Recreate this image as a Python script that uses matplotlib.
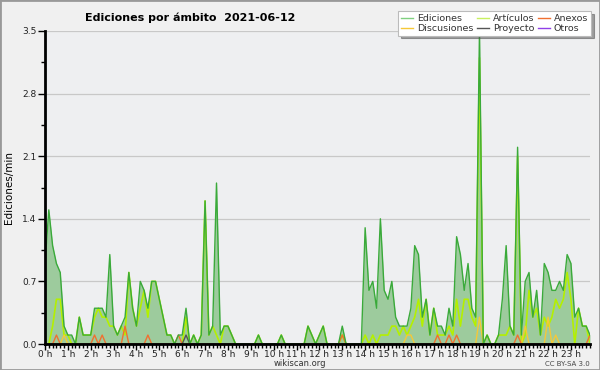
import numpy as np
import matplotlib
matplotlib.use("Agg")
import matplotlib.pyplot as plt
from matplotlib.patches import Rectangle
from matplotlib.ticker import MultipleLocator, FixedLocator

# 10-minute bins, edits per minute
ediciones = [
    0.9, 1.5, 1.1, 0.9, 0.8, 0.2, 0.1, 0.1, 0.0, 0.3, 0.1, 0.1,   # 0h-2h
    0.1, 0.4, 0.4, 0.4, 0.3, 1.0, 0.2, 0.1, 0.2, 0.3, 0.8, 0.4,   # 2h-4h
    0.2, 0.7, 0.6, 0.4, 0.7, 0.7, 0.5, 0.3, 0.1, 0.1, 0.0, 0.1,   # 4h-6h
    0.1, 0.4, 0.0, 0.1, 0.0, 0.1, 1.6, 0.1, 0.2, 1.8, 0.1, 0.2,   # 6h-8h
    0.2, 0.1, 0.0, 0.0, 0.0, 0.0, 0.0, 0.0, 0.1, 0.0, 0.0, 0.0,   # 8h-10h
    0.0, 0.0, 0.1, 0.0, 0.0, 0.0, 0.0, 0.0, 0.0, 0.2, 0.1, 0.0,   # 10h-12h
    0.1, 0.2, 0.0, 0.0, 0.0, 0.0, 0.2, 0.0, 0.0, 0.0, 0.0, 0.0,   # 12h-14h
    1.3, 0.6, 0.7, 0.4, 1.4, 0.6, 0.5, 0.7, 0.3, 0.2, 0.2, 0.2,   # 14h-16h
    0.4, 1.1, 1.0, 0.3, 0.5, 0.1, 0.4, 0.2, 0.2, 0.1, 0.4, 0.2,   # 16h-18h
    1.2, 1.0, 0.6, 0.9, 0.4, 0.3, 3.5, 0.0, 0.1, 0.0, 0.0, 0.1,   # 18h-20h
    0.5, 1.1, 0.2, 0.1, 2.2, 0.1, 0.7, 0.8, 0.3, 0.6, 0.1, 0.9,   # 20h-22h
    0.8, 0.6, 0.6, 0.7, 0.6, 1.0, 0.9, 0.3, 0.4, 0.2, 0.2, 0.1,   # 22h-24h
]
articulos = [
    0.0, 0.0, 0.2, 0.5, 0.5, 0.1, 0.1, 0.0, 0.0, 0.3, 0.1, 0.1,
    0.1, 0.3, 0.4, 0.3, 0.3, 0.2, 0.2, 0.1, 0.2, 0.1, 0.8, 0.4,
    0.2, 0.4, 0.6, 0.3, 0.7, 0.7, 0.5, 0.3, 0.1, 0.1, 0.0, 0.0,
    0.0, 0.3, 0.0, 0.1, 0.0, 0.1, 1.6, 0.1, 0.2, 0.1, 0.0, 0.2,
    0.2, 0.1, 0.0, 0.0, 0.0, 0.0, 0.0, 0.0, 0.1, 0.0, 0.0, 0.0,
    0.0, 0.0, 0.1, 0.0, 0.0, 0.0, 0.0, 0.0, 0.0, 0.2, 0.1, 0.0,
    0.1, 0.2, 0.0, 0.0, 0.0, 0.0, 0.1, 0.0, 0.0, 0.0, 0.0, 0.0,
    0.1, 0.0, 0.1, 0.0, 0.1, 0.1, 0.1, 0.2, 0.2, 0.1, 0.2, 0.1,
    0.2, 0.3, 0.5, 0.2, 0.5, 0.1, 0.4, 0.1, 0.1, 0.1, 0.2, 0.1,
    0.5, 0.2, 0.5, 0.5, 0.3, 0.2, 3.2, 0.0, 0.1, 0.0, 0.0, 0.1,
    0.1, 0.1, 0.2, 0.1, 2.1, 0.0, 0.1, 0.6, 0.3, 0.4, 0.1, 0.3,
    0.2, 0.3, 0.5, 0.4, 0.5, 0.8, 0.5, 0.0, 0.4, 0.2, 0.2, 0.0,
]
# sparse series: {bin index: value}
anexos = {3: 0.1, 13: 0.1, 15: 0.1, 21: 0.2, 27: 0.1, 35: 0.1, 78: 0.1,
          103: 0.1, 106: 0.1, 108: 0.1, 124: 0.1, 143: 0.1}
discusiones = {5: 0.1, 95: 0.1, 96: 0.1, 114: 0.3, 126: 0.2, 132: 0.3, 134: 0.1}
proyecto = {37: 0.1}
otros = {}

n = len(ediciones)
x = np.arange(n) / 6.0


def dense(d):
    a = np.zeros(n)
    for k, v in d.items():
        a[k] = v
    return a


c_edit = '#3aaa3a'
c_fill = '#9dcb9d'
c_art = '#b4f000'
c_anex = '#f07030'
c_disc = '#f5c838'
c_proy = '#555555'
c_otros = '#9040e8'
bg = '#eeeff1'

fig = plt.figure(figsize=(6, 3.7), dpi=100, facecolor='#f0f0f0')
ax = fig.add_axes([45 / 600, 26 / 370, 545 / 600, 313 / 370])
ax.set_facecolor(bg)

ax.fill_between(x, ediciones, color=c_fill, lw=0)
ax.plot(x, articulos, color=c_art, lw=1.2)
ax.plot(x, dense(discusiones), color=c_disc, lw=1.0)
ax.plot(x, dense(anexos), color=c_anex, lw=1.0)
ax.plot(x, dense(proyecto), color=c_proy, lw=1.0)
ax.plot(x, ediciones, color=c_edit, lw=1.0)

ax.set_xlim(0, x[-1])
ax.set_ylim(0, 3.5)

ax.yaxis.set_major_locator(FixedLocator([0, 0.7, 1.4, 2.1, 2.8, 3.5]))
ax.yaxis.set_minor_locator(MultipleLocator(0.35))
ax.set_yticklabels(['0.0', '0.7', '1.4', '2.1', '2.8', '3.5'])
ax.xaxis.set_major_locator(FixedLocator(range(24)))
ax.xaxis.set_minor_locator(MultipleLocator(1 / 6))
ax.set_xticklabels(['%d h' % h for h in range(24)])
ax.tick_params(axis='both', which='major', labelsize=6.5, length=5, width=1,
               color='black', labelcolor='#222222', pad=1)
ax.tick_params(axis='both', which='minor', length=3, width=1, color='black')
ax.tick_params(axis='x', which='major', length=4, pad=0)

ax.grid(axis='y', which='major', color='#c8c8c8', lw=0.9)
ax.set_axisbelow(True)
for s in ['top', 'right']:
    ax.spines[s].set_visible(False)
for s in ['left', 'bottom']:
    ax.spines[s].set_linewidth(2)
    ax.spines[s].set_color('black')

ax.set_ylabel('Ediciones/min', fontsize=7.5, labelpad=6)

fig.text(0.142, 0.952, 'Ediciones por ámbito  2021-06-12', fontsize=8,
         fontweight='bold', ha='left', va='center')
fig.text(0.5, 0.017, 'wikiscan.org', fontsize=6, ha='center', va='center',
         color='#333333')
fig.text(0.983, 0.017, 'CC BY-SA 3.0', fontsize=5, ha='right', va='center',
         color='#444444')

# legend
handles = [
    plt.Line2D([], [], color='#80d080', lw=1),
    plt.Line2D([], [], color=c_disc, lw=1),
    plt.Line2D([], [], color='#c8f060', lw=1),
    plt.Line2D([], [], color=c_proy, lw=1),
    plt.Line2D([], [], color=c_anex, lw=1),
    plt.Line2D([], [], color=c_otros, lw=1),
]
labels = ['Ediciones', 'Discusiones', 'Artículos', 'Proyecto', 'Anexos', 'Otros']
leg = fig.legend(handles, labels, ncol=3, loc='upper right',
                 bbox_to_anchor=(0.985, 0.97), fontsize=6.8, frameon=True,
                 fancybox=False, shadow=True, handlelength=1.3,
                 handletextpad=0.4, columnspacing=0.35, labelspacing=0.1,
                 borderpad=0.3, borderaxespad=0)
leg.get_frame().set_edgecolor('#bbbbbb')
leg.get_frame().set_linewidth(0.8)
for t in leg.get_texts():
    t.set_color('#333333')

fig.patches.append(Rectangle((0, 0), 1, 1, transform=fig.transFigure,
                             fill=False, edgecolor='#999999', lw=2))

fig.savefig('out.png', dpi=100, facecolor=fig.get_facecolor())
